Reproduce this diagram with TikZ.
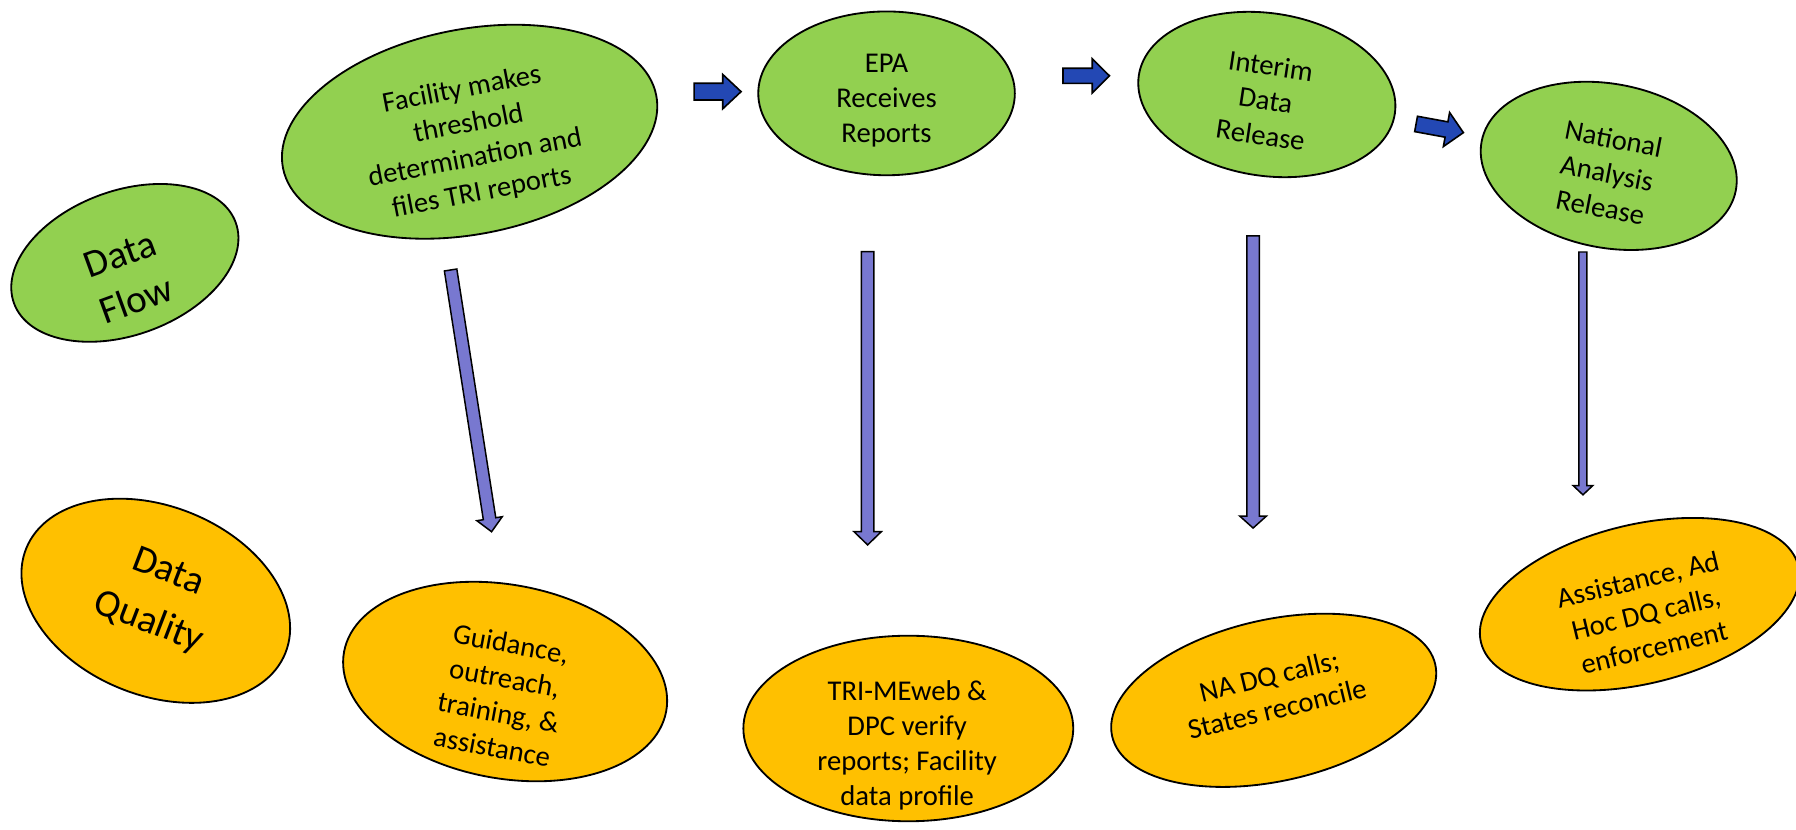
\documentclass[tikz,border=0pt]{standalone}
\usepackage{fontspec}
\setmainfont{Carlito}
\usetikzlibrary{shapes.geometric}
\definecolor{flowgreen}{HTML}{92D050}
\definecolor{qualorange}{HTML}{FFC000}
\definecolor{flowblue}{HTML}{2348B4}
\definecolor{qualpurple}{HTML}{7878D0}
\newcommand{\blockarr}[8]{%
  \begin{scope}[shift={(#2,#3)},rotate=#4]
    \draw[#1] (0,-#6) -- ({#5-#8},-#6) -- ({#5-#8},-#7) -- (#5,0) --
      ({#5-#8},#7) -- ({#5-#8},#6) -- (0,#6) -- cycle;
  \end{scope}}
\tikzset{
  ell/.style={draw=black, line width=1.6pt, ellipse, inner sep=0pt},
  greenell/.style={ell, fill=flowgreen},
  orangeell/.style={ell, fill=qualorange},
  smalltxt/.style={font=\fontsize{25}{30.5}\selectfont, align=center, inner sep=0pt},
  bigtxt/.style={font=\fontsize{34}{42}\selectfont, align=center, inner sep=0pt},
  bluearr/.style={fill=flowblue, draw=black, line width=1.4pt, line join=miter},
  purparr/.style={fill=qualpurple, draw=black, line width=1.3pt, line join=miter}
}
\begin{document}
\begin{tikzpicture}[x=1pt,y=-1pt]
\useasboundingbox[fill=white] (0,0) rectangle (1568,724);

% ---- Data flow row ----
\node[greenell, minimum width=206pt, minimum height=126pt, rotate=20] (df) at (109,229.5) {};
\node[bigtxt, rotate=20] (dft) at (112,242) {Data\\Flow};

\node[greenell, minimum width=332pt, minimum height=179pt, rotate=11] (fac) at (410,115) {};
\node[smalltxt, rotate=11] (fact) at (412,123.5) {Facility makes\\threshold\\determination and\\files TRI reports};

\node[greenell, minimum width=224pt, minimum height=143pt] (epa) at (774,81.5) {};
\node[smalltxt] (epat) at (774,87.5) {EPA\\Receives\\Reports};

\node[greenell, minimum width=226pt, minimum height=142pt, rotate=-8.5] (int) at (1106,82.5) {};
\node[smalltxt, rotate=-8.5] (intt) at (1105,87.5) {Interim\\Data\\Release};

\node[greenell, minimum width=226pt, minimum height=143pt, rotate=-11] (nat) at (1404.5,144.8) {};
\node[smalltxt, rotate=-11] (natt) at (1403,151) {National\\Analysis\\Release};

% ---- Data quality row ----
\node[orangeell, minimum width=244pt, minimum height=165pt, rotate=-22] (dq) at (136,524.5) {};
\node[bigtxt, font=\fontsize{34}{47}\selectfont, rotate=-21] (dqt) at (138,522) {Data\\Quality};

\node[orangeell, minimum width=286pt, minimum height=169pt, rotate=-10.5] (gui) at (441,595) {};
\node[smalltxt, rotate=-10.5] (guit) at (438,607) {Guidance,\\outreach,\\training, \&\\assistance};

\node[orangeell, minimum width=288pt, minimum height=162pt] (tri) at (793,636) {};
\node[smalltxt] (trit) at (792,650.5) {TRI-MEweb \&\\DPC verify\\reports; Facility\\data profile};

\node[orangeell, minimum width=289pt, minimum height=141pt, rotate=12.5] (nadq) at (1112,611.4) {};
\node[smalltxt, font=\fontsize{25}{29.5}\selectfont, rotate=13.5] (nadqt) at (1111.5,604.5) {NA DQ calls;\\States reconcile};

\node[orangeell, minimum width=285pt, minimum height=139pt, rotate=13.5] (ass) at (1431.5,527.5) {};
\node[smalltxt, rotate=13.5] (asst) at (1437,535.5) {Assistance, Ad\\Hoc DQ calls,\\enforcement};

% ---- blue flow arrows ----
\blockarr{bluearr}{606}{80}{0}{41}{7.3}{15}{16}
\blockarr{bluearr}{928}{66.2}{0}{40.6}{6.6}{14.9}{15}
\blockarr{bluearr}{1236.3}{108.2}{-10.4}{42}{6.8}{15.1}{15}

% ---- purple quality arrows ----
\blockarr{purparr}{393.4}{235.7}{-81.1}{231.3}{5.5}{11.2}{11.5}
\blockarr{purparr}{757.5}{219.7}{-90}{256}{5.5}{12}{11.6}
\blockarr{purparr}{1094}{206}{-90}{255}{5.5}{11.7}{10.5}
\blockarr{purparr}{1382}{220}{-90}{212}{3.5}{8.5}{8}
\end{tikzpicture}
\end{document}
